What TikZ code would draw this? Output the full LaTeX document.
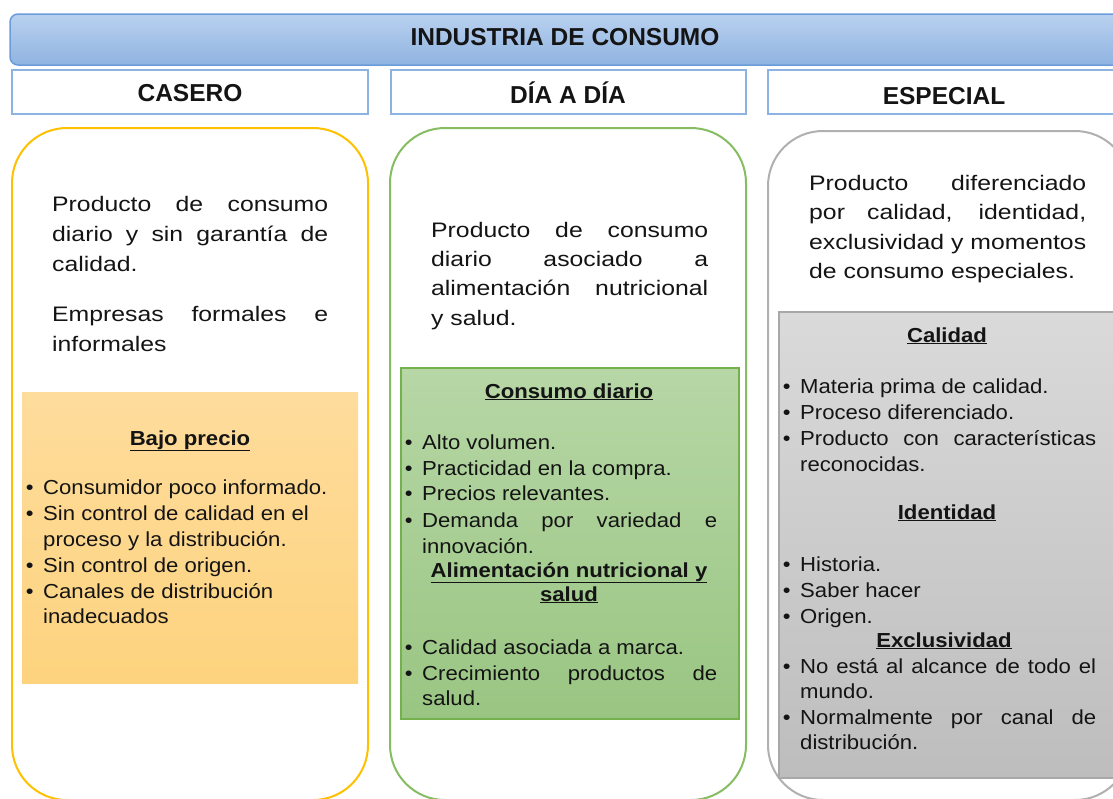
\documentclass[tikz,border=0pt]{standalone}
\usepackage{fontspec}
\setmainfont{Liberation Sans}
\newfontfamily\bodyf[FakeStretch=1.18]{Liberation Sans}
\newfontfamily\bulf[FakeStretch=1.09]{Liberation Sans}
\definecolor{bantop}{HTML}{B9D1EF}
\definecolor{banbot}{HTML}{8FB3E1}
\definecolor{banline}{HTML}{6B9CD9}
\definecolor{hdrline}{HTML}{8DB3E2}
\definecolor{gold}{HTML}{FFC000}
\definecolor{grnline}{HTML}{86BD62}
\definecolor{gryline}{HTML}{B0B0B0}
\definecolor{orTop}{HTML}{FEDC9C}
\definecolor{orBot}{HTML}{FDD37E}
\definecolor{grTop}{HTML}{B7D7A6}
\definecolor{grBot}{HTML}{99C582}
\definecolor{grBox}{HTML}{74B04C}
\definecolor{gyTop}{HTML}{DADADA}
\definecolor{gyBot}{HTML}{BDBDBD}
\definecolor{gyBox}{HTML}{A8A8A8}
\definecolor{ink}{HTML}{141414}
\newcommand\J[2]{\makebox[#1pt][s]{#2}}
\newcommand\B{\llap{\textbullet\hspace{9.5pt}}}
\begin{document}
\begin{tikzpicture}[x=1pt,y=-1pt,
  bodytext/.style={anchor=base west, inner sep=0pt, text=ink, font=\bodyf\fontsize{21}{30}\selectfont},
  bultext/.style={anchor=base west, inner sep=0pt, text=ink, font=\bulf\fontsize{20.3}{26}\selectfont},
  heading/.style={anchor=base, inner sep=0pt, text=ink, font=\bulf\bfseries\fontsize{20.3}{26}\selectfont},
  hdrtext/.style={anchor=base, inner sep=0pt, text=ink, font=\bfseries\fontsize{24.5}{28}\selectfont},
  hdrbox/.style={draw=hdrline, line width=2pt, fill=white},
  colbox/.style={line width=2pt, rounded corners=55pt, fill=white}]
\useasboundingbox (0,0) rectangle (1113,798);
\clip (0,0) rectangle (1113,798);
% banner
\shade[top color=bantop, bottom color=banbot, rounded corners=8pt] (10,14) rectangle (1125,65);
\draw[banline, line width=1.5pt, rounded corners=8pt] (10,14) rectangle (1125,65);
\node[hdrtext] (title) at (565,45) {INDUSTRIA DE CONSUMO};
% header boxes
\draw[hdrbox] (12,70) rectangle (368,114);
\draw[hdrbox] (391,70) rectangle (746,114);
\draw[hdrbox] (768,70) rectangle (1125,114);
\node[hdrtext] (h1) at (190,101) {CASERO};
\node[hdrtext] (h2) at (568,103) {DÍA A DÍA};
\node[hdrtext] (h3) at (944,104) {ESPECIAL};
% columns
\draw[colbox, draw=gold] (12,128) rectangle (368,800);
\draw[colbox, draw=grnline] (390,128) rectangle (746,800);
\draw[colbox, draw=gryline] (768,131) rectangle (1130,800);
% inner boxes
\shade[top color=orTop, bottom color=orBot] (22,392) rectangle (358,683);
\shade[top color=grTop, bottom color=grBot] (401,368) rectangle (739,719);
\draw[grBox, line width=1.5pt] (401,368) rectangle (739,719);
\shade[top color=gyTop, bottom color=gyBot] (779,312) rectangle (1125,778);
\draw[gyBox, line width=1.5pt] (779,312) rectangle (1125,778);
% column 1 paragraph
\foreach \n/\yy/\txt in {1/211/{\J{276}{Producto de consumo}},
  2/241/{\J{276}{diario y sin garantía de}},
  3/271/{calidad.},
  4/321/{\J{276}{Empresas formales e}},
  5/351/{informales}}
  \node[bodytext] (p1l\n) at (52,\yy) {\txt};
% column 2 paragraph
\foreach \n/\yy/\txt in {1/237/{\J{277}{Producto de consumo}},
  2/266/{\J{277}{diario asociado a}},
  3/295/{\J{277}{alimentación nutricional}},
  4/325/{y salud.}}
  \node[bodytext] (p2l\n) at (431,\yy) {\txt};
% column 3 paragraph
\foreach \n/\yy/\txt in {1/190/{\J{277}{Producto diferenciado}},
  2/219/{\J{277}{por calidad, identidad,}},
  3/249/{\J{277}{exclusividad y momentos}},
  4/278/{de consumo especiales.}}
  \node[bodytext] (p3l\n) at (809,\yy) {\txt};
% column 1 box
\node[heading] (bajo) at (190,445) {\underline{Bajo precio}};
\foreach \n/\yy/\txt in {1/494/{\B Consumidor poco informado.},
  2/520/{\B Sin control de calidad en el},
  3/546/{proceso y la distribución.},
  4/572/{\B Sin control de origen.},
  5/598/{\B Canales de distribución},
  6/623/{inadecuados}}
  \node[bultext] (b1l\n) at (43,\yy) {\txt};
% column 2 box
\node[heading] (consumo) at (569,398) {\underline{Consumo diario}};
\node[heading] (alim1) at (569,577) {\underline{Alimentación nutricional y}};
\node[heading] (alim2) at (569,601) {\underline{salud}};
\foreach \n/\yy/\txt in {1/449/{\B Alto volumen.},
  2/475/{\B Practicidad en la compra.},
  3/500/{\B Precios relevantes.},
  4/527/{\B\J{295}{Demanda por variedad e}},
  5/553/{innovación.},
  6/654/{\B Calidad asociada a marca.},
  7/680/{\B\J{295}{Crecimiento productos de}},
  8/705/{salud.}}
  \node[bultext] (b2l\n) at (422,\yy) {\txt};
% column 3 box
\node[heading] (calidad) at (947,342) {\underline{Calidad}};
\node[heading] (identidad) at (947,519) {\underline{Identidad}};
\node[heading] (exclus) at (944,647) {\underline{Exclusividad}};
\foreach \n/\yy/\txt in {1/393/{\B Materia prima de calidad.},
  2/419/{\B Proceso diferenciado.},
  3/445/{\B\J{296}{Producto con características}},
  4/471/{reconocidas.},
  5/571/{\B Historia.},
  6/597/{\B Saber hacer},
  7/623/{\B Origen.},
  8/673/{\B\J{296}{No está al alcance de todo el}},
  9/698/{mundo.},
  10/724/{\B\J{296}{Normalmente por canal de}},
  11/749/{distribución.}}
  \node[bultext] (b3l\n) at (800,\yy) {\txt};
\end{tikzpicture}
\end{document}
